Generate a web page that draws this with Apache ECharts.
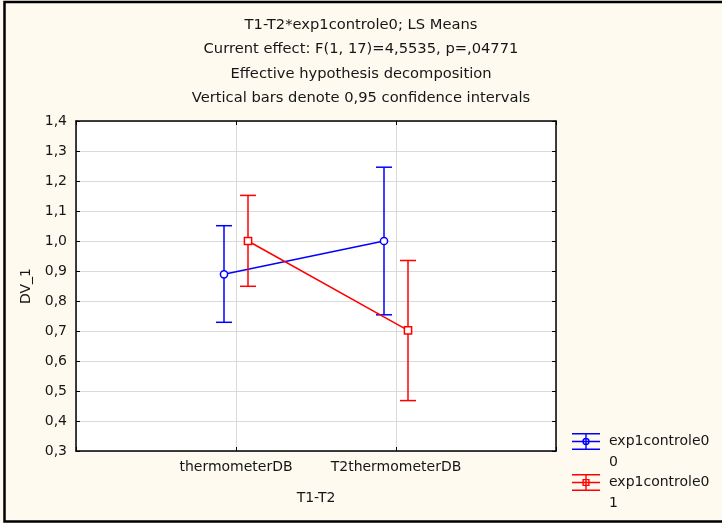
<!DOCTYPE html>
<html>
<head>
<meta charset="utf-8">
<script src="https://cdn.jsdelivr.net/npm/echarts@6/dist/echarts.min.js"></script>
<style>
  html, body { margin: 0; padding: 0; background: #fefaf0; }
  #chart { width: 722px; height: 523px; }
</style>
</head>
<body>
<div id="chart"></div>
<script>
// ---- data ----
const categories = ['thermometerDB', 'T2thermometerDB'];
const groupNames = ['0', '1'];
const legendTitle = 'exp1controle0';
const means0 = [0.889, 1.000];
const lower0 = [0.729, 0.754];
const upper0 = [1.051, 1.246];
const means1 = [1.000, 0.702];
const lower1 = [0.849, 0.468];
const upper1 = [1.152, 0.935];
const yMin = 0.3, yMax = 1.4, yStep = 0.1;
const titleLines = [
  'T1-T2*exp1controle0; LS Means',
  'Current effect: F(1, 17)=4,5535, p=,04771',
  'Effective hypothesis decomposition',
  'Vertical bars denote 0,95 confidence intervals'
];

const FONT = 'DejaVu Sans';
const TXT = '#161616';
const BLUE = '#0000ff', RED = '#ff0000';

function buildData(means, lower, upper) {
  return categories.map((c, i) => [i + 1, means[i], lower[i], upper[i]]);
}
const data0 = buildData(means0, lower0, upper0);
const data1 = buildData(means1, lower1, upper1);

function makeRender(data, dodge, color, markerType) {
  return function (params, api) {
    const i = params.dataIndex;
    const x = api.value(0);
    const pm = api.coord([x, api.value(1)]);
    const plo = api.coord([x, api.value(2)]);
    const phi = api.coord([x, api.value(3)]);
    const cx = pm[0] + dodge;
    const st = { stroke: color, lineWidth: 1.5, fill: null };
    const children = [];
    if (i < data.length - 1) {
      const pn = api.coord([data[i + 1][0], data[i + 1][1]]);
      children.push({ type: 'line', shape: { x1: cx, y1: pm[1], x2: pn[0] + dodge, y2: pn[1] }, style: st });
    }
    children.push({ type: 'line', shape: { x1: cx, y1: phi[1], x2: cx, y2: plo[1] }, style: st });
    children.push({ type: 'line', shape: { x1: cx - 8, y1: phi[1], x2: cx + 8, y2: phi[1] }, style: st });
    children.push({ type: 'line', shape: { x1: cx - 8, y1: plo[1], x2: cx + 8, y2: plo[1] }, style: st });
    if (markerType === 'circle') {
      children.push({ type: 'circle', shape: { cx: cx, cy: pm[1], r: 3.6 }, style: { stroke: color, lineWidth: 1.5, fill: '#fff' } });
    } else {
      children.push({ type: 'rect', shape: { x: cx - 3.6, y: pm[1] - 3.6, width: 7.2, height: 7.2 }, style: { stroke: color, lineWidth: 1.5, fill: '#fff' } });
    }
    return { type: 'group', children: children };
  };
}

const bars = 'M0,0 H28 V1.4 H0 Z M0,7.8 H28 V9.2 H0 Z M0,15.6 H28 V17 H0 Z M13.3,0 H14.7 V17 H13.3 Z ';
const iconCircle = 'path://' + bars +
  'M10.3,8.5 A3.7,3.7 0 1,1 17.7,8.5 A3.7,3.7 0 1,1 10.3,8.5 Z ' +
  'M11.7,8.5 A2.3,2.3 0 1,0 16.3,8.5 A2.3,2.3 0 1,0 11.7,8.5 Z';
const iconSquare = 'path://' + bars +
  'M10.4,4.9 H17.6 V12.1 H10.4 Z M11.8,6.3 V10.7 H16.2 V6.3 Z';

function legendFor(name, icon, top) {
  return {
    data: [{ name: name, icon: icon }],
    left: 572, top: top, padding: 0,
    itemWidth: 28, itemHeight: 17,
    itemStyle: { borderWidth: 0 },
    formatter: n => '\u00a0\n' + legendTitle + '\n' + n,
    textStyle: { fontFamily: FONT, fontSize: 14, color: TXT, lineHeight: 21, padding: [0, 0, 0, 4] }
  };
}

const axisLabelY = v => v.toFixed(1).replace('.', ',');
const gridLine = { show: true, lineStyle: { color: '#dadada', width: 1 } };
const axisLine = { show: true, onZero: false, lineStyle: { color: '#000', width: 1.5 } };
const tickIn = { show: true, inside: true, length: 4, lineStyle: { color: '#000', width: 1 } };

const option = {
  backgroundColor: '#fefaf0',
  animation: false,
  color: [BLUE, RED],
  title: {
    text: titleLines.join('\n'),
    left: 'center', top: 8, padding: [5, 0, 5, 12],
    textStyle: { fontFamily: FONT, fontSize: 14.7, fontWeight: 'normal', color: TXT, lineHeight: 24.3 }
  },
  grid: { left: 76, right: 166, top: 121, bottom: 72, show: true, backgroundColor: '#ffffff', borderWidth: 0 },
  legend: [legendFor(groupNames[0], iconCircle, 410), legendFor(groupNames[1], iconSquare, 451)],
  xAxis: [
    {
      type: 'value', min: 0, max: categories.length + 1, interval: 1, position: 'bottom',
      axisLine: axisLine, axisTick: tickIn, splitLine: gridLine,
      axisLabel: { formatter: v => categories[v - 1] || '', fontFamily: FONT, fontSize: 14, color: TXT, margin: 9 },
      name: 'T1-T2', nameLocation: 'middle', nameGap: 40,
      nameTextStyle: { fontFamily: FONT, fontSize: 14, color: TXT }
    },
    {
      type: 'value', min: 0, max: categories.length + 1, interval: 1, position: 'top',
      axisLine: axisLine, axisTick: tickIn, splitLine: { show: false }, axisLabel: { show: false }
    }
  ],
  yAxis: [
    {
      type: 'value', min: yMin, max: yMax, interval: yStep, position: 'left',
      axisLine: axisLine, axisTick: tickIn, splitLine: gridLine,
      axisLabel: { formatter: axisLabelY, fontFamily: FONT, fontSize: 14, color: TXT, margin: 9 },
      name: 'DV_1', nameLocation: 'middle', nameRotate: 90, nameGap: 35,
      nameTextStyle: { fontFamily: FONT, fontSize: 14, color: TXT }
    },
    {
      type: 'value', min: yMin, max: yMax, interval: yStep, position: 'right',
      axisLine: axisLine, axisTick: tickIn, splitLine: { show: false }, axisLabel: { show: false }
    }
  ],
  series: [
    {
      name: groupNames[0], type: 'custom', data: data0, xAxisIndex: 0, yAxisIndex: 0,
      encode: { x: 0, y: [1, 2, 3] }, itemStyle: { color: BLUE },
      renderItem: makeRender(data0, -12, BLUE, 'circle')
    },
    {
      name: groupNames[1], type: 'custom', data: data1, xAxisIndex: 0, yAxisIndex: 0,
      encode: { x: 0, y: [1, 2, 3] }, itemStyle: { color: RED },
      renderItem: makeRender(data1, 12, RED, 'square')
    }
  ],
  graphic: [{
    type: 'rect', z: 100, silent: true,
    shape: { x: 4.5, y: 2, width: 800, height: 519.5 },
    style: { fill: null, stroke: '#000', lineWidth: 2.5 }
  }]
};

const chart = echarts.init(document.getElementById('chart'), null, { renderer: 'canvas' });
chart.setOption(option);
</script>
</body>
</html>
